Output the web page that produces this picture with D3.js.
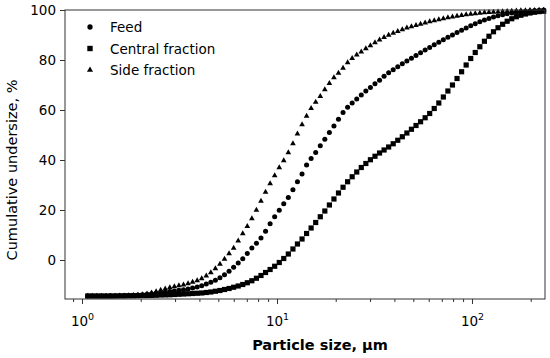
<!DOCTYPE html>
<html lang="en">
  <head>
    <meta charset="UTF-8" />
    <script src="https://d3js.org/d3.v7.min.js"></script>
    <style>
      body { margin: 0; background: #fff; }
      text { font-family: "DejaVu Sans", sans-serif; fill: #000; }
    </style>
  </head>
  <body>
    <svg id="chart" width="550" height="358"></svg>
    <script>
      // particle size classes, um
      const sizes = [
        1.07, 1.129, 1.192, 1.258, 1.327, 1.401, 1.478, 1.56, 1.646, 1.737,
        1.833, 1.935, 2.042, 2.155, 2.274, 2.399, 2.532, 2.672, 2.82, 2.976,
        3.14, 3.315, 3.498, 3.691, 3.896, 4.11, 4.338, 4.578, 4.831, 5.098,
        5.38, 5.678, 5.993, 6.324, 6.674, 7.042, 7.432, 7.843, 8.277, 8.735,
        9.218, 9.728, 10.27, 10.83, 11.43, 12.07, 12.73, 13.44, 14.18, 14.96,
        15.79, 16.67, 17.59, 18.56, 19.59, 20.67, 21.81, 23.02, 24.29, 25.64,
        27.05, 28.55, 30.13, 31.8, 33.56, 35.41, 37.37, 39.44, 41.62, 43.92,
        46.35, 48.92, 51.63, 54.48, 57.5, 60.67, 64.02, 67.57, 71.3, 75.24,
        79.4, 83.8, 88.45, 93.33, 98.5, 103.9, 109.7, 115.8, 122.2, 128.9,
        136.0, 143.6, 151.5, 159.9, 168.8, 178.1, 187.9, 198.3, 209.3, 220.9,
        233.1
      ];

      const feed = [
        -14.4, -14.4, -14.4, -14.4, -14.4, -14.35, -14.3, -14.3, -14.25, -14.2,
        -14.1, -14.0, -13.9, -13.7, -13.5, -13.3, -13.1, -12.9, -12.6, -12.4,
        -12.1, -11.9, -11.6, -11.2, -10.8, -10.3, -9.6, -8.9, -8.1, -7.1,
        -5.9, -4.5, -2.9, -1.2, 0.5, 2.6, 4.8, 6.7, 8.8, 11.5,
        14.5, 17.3, 19.9, 22.5, 25.0, 28.1, 31.3, 34.4, 38.0, 40.6,
        43.0, 45.7, 48.3, 51.0, 53.6, 56.3, 59.0, 61.1, 62.8, 64.4,
        66.0, 67.6, 69.0, 70.5, 71.9, 73.5, 74.9, 76.1, 77.3, 78.5,
        79.6, 80.7, 81.8, 82.9, 84.0, 85.0, 86.1, 87.1, 88.1, 89.1,
        90.0, 91.0, 91.9, 92.8, 93.7, 94.5, 95.3, 96.0, 96.6, 97.2,
        97.7, 98.1, 98.5, 98.8, 99.05, 99.3, 99.45, 99.6, 99.75, 99.85,
        99.95
      ];

      const central = [
        -14.4, -14.4, -14.4, -14.4, -14.4, -14.4, -14.4, -14.35, -14.35, -14.3,
        -14.3, -14.25, -14.2, -14.2, -14.15, -14.1, -14.0, -13.95, -13.9, -13.8,
        -13.7, -13.6, -13.5, -13.4, -13.3, -13.2, -13.0, -12.8, -12.5, -12.2,
        -11.8, -11.4, -10.9, -10.4, -9.8, -9.1, -8.3, -7.3, -6.2, -5.0,
        -3.8, -2.5, -1.0, 0.6, 2.4, 4.4, 6.4, 8.4, 10.6, 12.8,
        15.0, 17.3, 19.6, 22.0, 24.4, 26.8, 29.1, 31.3, 33.3, 35.2,
        37.0, 38.6, 40.1, 41.5, 42.8, 44.0, 45.2, 46.5, 47.9, 49.3,
        50.8, 52.3, 53.8, 55.3, 56.9, 58.6, 60.6, 62.8, 65.2, 67.6,
        70.0, 72.6, 75.3, 78.0, 80.6, 83.0, 85.3, 87.5, 89.5, 91.3,
        92.9, 94.3, 95.5, 96.5, 97.3, 97.9, 98.4, 98.8, 99.1, 99.35,
        99.5
      ];

      const side = [
        -14.4, -14.4, -14.4, -14.4, -14.4, -14.4, -14.4, -14.3, -14.3, -14.2,
        -14.1, -14.0, -13.8, -13.5, -13.1, -12.6, -12.0, -11.5, -11.0, -10.6,
        -10.2, -9.9, -9.4, -8.8, -8.2, -7.4, -6.3, -5.0, -3.4, -1.6,
        0.4, 2.6, 4.8, 7.7, 10.6, 13.5, 16.6, 20.0, 23.6, 27.2,
        30.6, 33.8, 37.0, 39.8, 43.0, 46.6, 50.5, 54.2, 57.6, 60.7,
        63.2, 65.5, 68.2, 70.7, 73.0, 74.8, 76.8, 79.0, 80.7, 82.1,
        83.3, 84.6, 85.8, 87.0, 88.1, 89.1, 90.0, 90.8, 91.5, 92.2,
        92.9, 93.4, 93.9, 94.4, 94.9, 95.4, 95.8, 96.2, 96.6, 97.0,
        97.3, 97.6, 97.9, 98.2, 98.4, 98.6, 98.8, 98.95, 99.1, 99.2,
        99.3, 99.4, 99.5, 99.6, 99.7, 99.75, 99.8, 99.85, 99.9, 99.95,
        100
      ];

      const seriesNames = ["Feed", "Central fraction", "Side fraction"];
      const yTicks = [0, 20, 40, 60, 80, 100];
      const xMajorTicks = [1, 10, 100];

      const svg = d3.select("#chart");
      const margin = { left: 65, right: 5, top: 10, bottom: 59 };
      const width = 550, height = 358;

      const x = d3.scaleLog()
        .domain([0.818, 236.8])
        .range([margin.left, width - margin.right]);
      const y = d3.scaleLinear()
        .domain([-15.6, 100])
        .range([height - margin.bottom, margin.top]);

      const symbols = [d3.symbolCircle, d3.symbolSquare, d3.symbolTriangle];
      const symSizes = [20, 27, 14];
      const allSeries = [feed, central, side];

      // markers
      allSeries.forEach(function (vals, k) {
        const sym = d3.symbol().type(symbols[k]).size(symSizes[k]);
        svg.append("g")
          .selectAll("path")
          .data(vals.map((v, i) => [sizes[i], v]))
          .join("path")
          .attr("d", sym)
          .attr("transform", d => `translate(${x(d[0])},${y(d[1])})`)
          .attr("fill", "#000");
      });

      // frame
      svg.append("rect")
        .attr("x", margin.left).attr("y", margin.top)
        .attr("width", width - margin.left - margin.right)
        .attr("height", height - margin.top - margin.bottom)
        .attr("fill", "none").attr("stroke", "#333").attr("stroke-width", 1);

      // y axis
      const yAxis = svg.append("g")
        .attr("transform", `translate(${margin.left},0)`)
        .call(d3.axisLeft(y).tickValues(yTicks).tickSize(5).tickPadding(4));
      yAxis.select(".domain").remove();
      yAxis.selectAll("line").attr("stroke", "#333");
      yAxis.selectAll("text")
        .style("font-family", "DejaVu Sans").style("font-size", "13.5px");

      // x axis, minor + major ticks
      const minor = [];
      [0.1, 1, 10, 100].forEach(function (dec) {
        for (let m = 2; m <= 9; m++) {
          const v = dec * m;
          if (v > x.domain()[0] && v < x.domain()[1]) minor.push(v);
        }
      });
      const xAxisG = svg.append("g")
        .attr("transform", `translate(0,${height - margin.bottom})`);
      xAxisG.append("g")
        .call(d3.axisBottom(x).tickValues(minor).tickSize(3).tickFormat(""))
        .call(g => g.select(".domain").remove())
        .selectAll("line").attr("stroke", "#333");
      const major = xAxisG.append("g")
        .call(d3.axisBottom(x).tickValues(xMajorTicks).tickSize(5).tickFormat(""));
      major.select(".domain").remove();
      major.selectAll("line").attr("stroke", "#333");
      major.selectAll(".tick").append("text")
        .attr("y", 27)
        .attr("text-anchor", "middle")
        .style("font-size", "13.5px")
        .each(function (d) {
          const t = d3.select(this);
          t.append("tspan").text("10");
          t.append("tspan").attr("dy", -6).style("font-size", "9.5px")
            .text(Math.round(Math.log10(d)));
        });

      // axis labels
      svg.append("text")
        .attr("x", 320).attr("y", 350)
        .attr("text-anchor", "middle")
        .style("font-size", "14.5px").style("font-weight", "bold")
        .text("Particle size, μm");
      svg.append("text")
        .attr("transform", "translate(17,170) rotate(-90)")
        .attr("text-anchor", "middle")
        .style("font-size", "14.5px")
        .text("Cumulative undersize, %");

      // legend
      const legend = svg.append("g");
      seriesNames.forEach(function (name, k) {
        const ly = 27 + k * 21.5;
        legend.append("path")
          .attr("d", d3.symbol().type(symbols[k]).size(symSizes[k] + 2)())
          .attr("transform", `translate(90,${ly})`)
          .attr("fill", "#000");
        legend.append("text")
          .attr("x", 110).attr("y", ly + 5)
          .style("font-size", "13.5px")
          .text(name);
      });
    </script>
  </body>
</html>
